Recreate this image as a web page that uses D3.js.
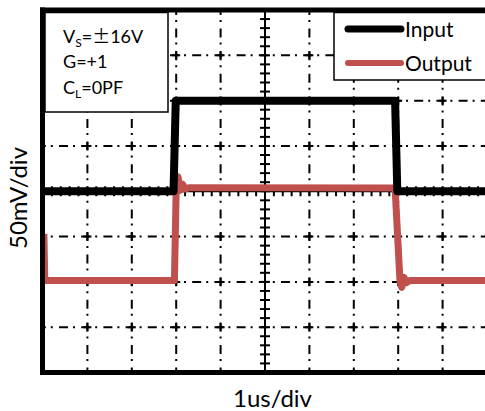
<!DOCTYPE html>
<html lang="en">
<head>
    <meta charset="UTF-8">
    <title>Step response</title>
    <script src="https://cdn.jsdelivr.net/npm/d3@7"></script>
    <style>
        body { margin: 0; background: #fff; }
        text { font-family: Lato, "Liberation Sans", sans-serif; fill: #000; }
    </style>
</head>
<body>
<svg width="485" height="411"></svg>
<script>
    // time in us (1us/div), voltage in mV (50mV/div)
    var inputT = [0, 2.94, 2.99, 7.93, 7.98, 10];
    var inputV = [0, 0, 100, 100, 0, 0];

    var outputT = [0.02, 0.04, 2.96, 3.0, 3.04, 3.09, 3.14, 3.2, 3.3, 7.93, 8.04, 8.08, 8.13, 8.18, 8.26, 10];
    var outputV = [-47, -98.5, -98.5, 3.5, 16, 1, 8, 2.5, 4, 3.5, -99, -106, -95, -101, -98.5, -98.5];

    var seriesNames = ["Input", "Output"];
    var seriesColors = ["#000000", "#C0504D"];
    var notes = [["V", "S", "=", "±", "16V"], ["G=+1"], ["C", "L", "=0PF"]];
    var xTitle = "1us/div";
    var yTitle = "50mV/div";

    var svg = d3.select("svg");
    var x = d3.scaleLinear().domain([0, 10]).range([43, 487]);
    var y = d3.scaleLinear().domain([-200, 200]).range([372.5, 10]);

    // 网格
    var xDivs = d3.range(1, 10).filter(function(d){ return d !== 5; });
    var yDivs = [-150, -100, -50, 50, 100, 150];
    var grid = svg.append("g").attr("stroke", "#000").attr("stroke-width", 2);
    grid.selectAll(".vg").data(xDivs).enter().append("line")
        .attr("x1", function(d){ return x(d); }).attr("x2", function(d){ return x(d); })
        .attr("y1", y(200)).attr("y2", y(-200))
        .attr("stroke-dasharray", "9,5,2,6.6")
        .attr("stroke-dashoffset", 4);
    grid.selectAll(".hg").data(yDivs).enter().append("line")
        .attr("y1", function(d){ return y(d); }).attr("y2", function(d){ return y(d); })
        .attr("x1", x(0)).attr("x2", x(10))
        .attr("stroke-dasharray", "9,5,2,6.2")
        .attr("stroke-dashoffset", -16);
    // 交点十字
    var cross = [];
    xDivs.forEach(function(a){ yDivs.forEach(function(b){ cross.push([a, b]); }); });
    grid.selectAll(".cx").data(cross).enter().append("path")
        .attr("d", function(d){
            var cx = x(d[0]), cy = y(d[1]);
            return "M" + (cx - 4) + "," + cy + "H" + (cx + 4) + "M" + cx + "," + (cy - 4) + "V" + (cy + 4);
        });

    // 中心轴与细分刻度
    var axes = svg.append("g").attr("stroke", "#000").attr("stroke-width", 2);
    axes.append("line").attr("x1", x(5)).attr("x2", x(5)).attr("y1", y(200)).attr("y2", y(-200));
    axes.append("line").attr("x1", x(0)).attr("x2", x(10)).attr("y1", y(0)).attr("y2", y(0));
    axes.selectAll(".ty").data(d3.range(-190, 200, 10)).enter().append("line")
        .attr("x1", x(5) - 5).attr("x2", x(5) + 5)
        .attr("y1", function(d){ return y(d); }).attr("y2", function(d){ return y(d); });
    axes.selectAll(".tx").data(d3.range(0.2, 10, 0.2)).enter().append("line")
        .attr("y1", y(0) - 5).attr("y2", y(0) + 5)
        .attr("x1", function(d){ return x(d); }).attr("x2", function(d){ return x(d); });

    // 曲线
    var line = d3.line().x(function(d){ return x(d[0]); }).y(function(d){ return y(d[1]); });
    svg.append("path")
        .datum(d3.zip(outputT, outputV))
        .attr("d", line)
        .attr("fill", "none")
        .attr("stroke", seriesColors[1])
        .attr("stroke-width", 7)
        .attr("stroke-linejoin", "round");
    svg.append("path")
        .datum(d3.zip(inputT, inputV))
        .attr("d", line)
        .attr("fill", "none")
        .attr("stroke", seriesColors[0])
        .attr("stroke-width", 8)
        .attr("stroke-linejoin", "round");

    // 边框
    var frame = svg.append("g").attr("stroke", "#000").attr("stroke-width", 5);
    frame.append("line").attr("x1", 42.5).attr("x2", 42.5).attr("y1", 7.5).attr("y2", 375);
    frame.append("line").attr("x1", 40).attr("x2", 490).attr("y1", 10).attr("y2", 10);
    frame.append("line").attr("x1", 40).attr("x2", 490).attr("y1", 372.5).attr("y2", 372.5);

    // 条件说明框
    svg.append("rect").attr("x", 45).attr("y", 12.5).attr("width", 123).attr("height", 99.5)
        .attr("fill", "#fff").attr("stroke", "#000").attr("stroke-width", 1.5);
    var note = svg.append("g").style("font-size", "18px");
    var t0 = note.append("text").attr("x", 63).attr("y", 43);
    t0.append("tspan").text(notes[0][0]);
    t0.append("tspan").attr("dy", 4).style("font-size", "12px").text(notes[0][1]);
    t0.append("tspan").attr("dy", -4).text(notes[0][2]);
    t0.append("tspan").style("font-family", "'Noto Sans CJK SC'").text(notes[0][3]);
    t0.append("tspan").text(notes[0][4]);
    note.append("text").attr("x", 63).attr("y", 68).text(notes[1][0]);
    var t2 = note.append("text").attr("x", 63).attr("y", 94);
    t2.append("tspan").text(notes[2][0]);
    t2.append("tspan").attr("dy", 4).style("font-size", "12px").text(notes[2][1]);
    t2.append("tspan").attr("dy", -4).text(notes[2][2]);

    // 图例
    svg.append("rect").attr("x", 334).attr("y", 12.5).attr("width", 200).attr("height", 67.5)
        .attr("fill", "#fff").attr("stroke", "#000").attr("stroke-width", 1.5);
    var legend = svg.selectAll(".lg").data(seriesNames).enter().append("g")
        .attr("transform", function(d, i){ return "translate(0," + (29 + i * 34) + ")"; });
    legend.append("line").attr("x1", 348).attr("x2", 401).attr("y1", 0).attr("y2", 0)
        .attr("stroke", function(d, i){ return seriesColors[i]; })
        .attr("stroke-width", function(d, i){ return i === 0 ? 7 : 6; })
        .attr("stroke-linecap", "round");
    legend.append("text").attr("x", 405).attr("y", 8).style("font-size", "21px")
        .text(function(d){ return d; });

    // 坐标轴标题
    svg.append("text").attr("x", 272.5).attr("y", 406.5).attr("text-anchor", "middle")
        .style("font-size", "24px").text(xTitle);
    svg.append("text").attr("transform", "translate(27,198) rotate(-90)").attr("text-anchor", "middle")
        .style("font-size", "24px").text(yTitle);
</script>
</body>
</html>
